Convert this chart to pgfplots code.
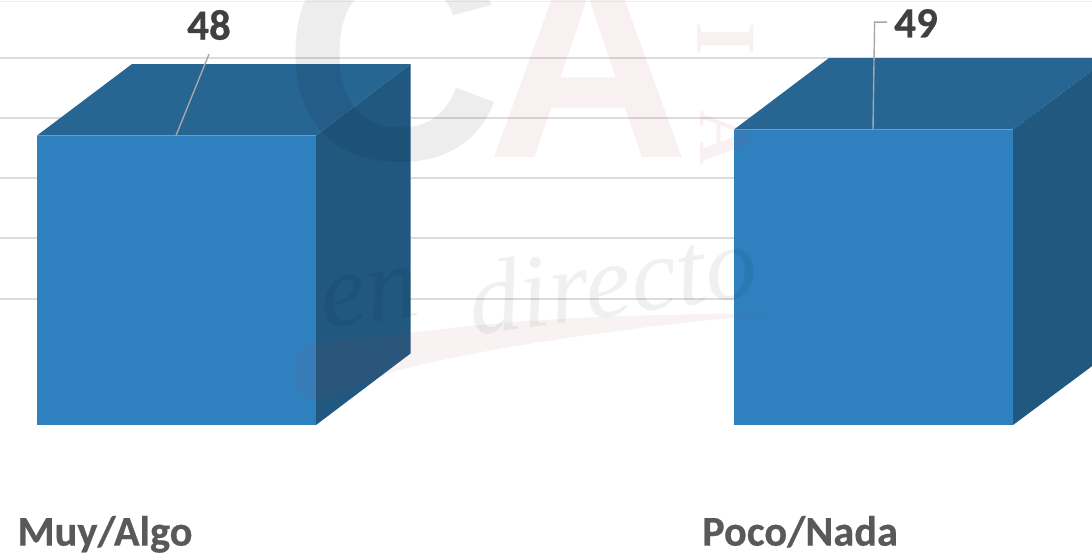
\documentclass[border=0pt]{standalone}
\usepackage{pgfplots}
\pgfplotsset{compat=1.18}
\usepackage{fontspec}
\setmainfont{Carlito}[BoldFeatures={FakeBold=0.5}]
\newfontfamily\wmfont{Liberation Sans}
\newfontfamily\wmscript{Liberation Serif}
\definecolor{barfront}{HTML}{2E81BE}
\definecolor{bartop}{HTML}{276693}
\definecolor{barside}{HTML}{205880}
\definecolor{gridc}{HTML}{DCDCDC}
\definecolor{labelc}{HTML}{404040}
\definecolor{catc}{HTML}{595959}
\definecolor{leaderc}{HTML}{A6A6A6}
\definecolor{wmred}{HTML}{B04050}
\begin{document}
\begin{tikzpicture}
\begin{axis}[
  scale only axis,
  width=546pt,
  height=277pt,
  xmin=0, xmax=1092,
  ymin=-21.39, ymax=70.48,
  axis line style={draw=none},
  tick style={draw=none},
  xtick=\empty,
  ytick={20.9,31.01,40.96,50.91,60.86},
  yticklabels={},
  ymajorgrids,
  grid style={gridc,line width=0.9pt},
]
\addplot[draw=black!6,line width=0.5pt] coordinates {(0,70.3)(1092,70.3)};
% bar 1: 48
\addplot[fill=barfront,draw=none] coordinates {(37,0)(316,0)(316,48)(37,48)} --cycle;
\addplot[fill=bartop,draw=none] coordinates {(37,48)(316,48)(410.5,59.86)(132,59.86)} --cycle;
\addplot[fill=barside,draw=none] coordinates {(316,0)(410.5,11.86)(410.5,59.86)(316,48)} --cycle;
% bar 2: 49
\addplot[fill=barfront,draw=none] coordinates {(734,0)(1013,0)(1013,49)(734,49)} --cycle;
\addplot[fill=bartop,draw=none] coordinates {(734,49)(1013,49)(1109,60.86)(829,60.86)} --cycle;
\addplot[fill=barside,draw=none] coordinates {(1013,0)(1109,11.86)(1109,60.86)(1013,49)} --cycle;
% leader lines
\addplot[leaderc,line width=0.7pt] coordinates {(176,48)(209,61.5)};
\addplot[leaderc,line width=0.7pt] coordinates {(873,49)(874.6,66.8)(887,66.8)};
% watermark, laid over the bars
\begin{scope}
\clip (axis cs:0,-21.39) rectangle (axis cs:1092,70.48);
\node[anchor=base,opacity=0.07,text=black,font=\wmfont\bfseries\fontsize{152}{152}\selectfont] at (axis cs:393,44.1) {C};
\node[anchor=base,opacity=0.08,text=wmred,font=\wmfont\bfseries\fontsize{140}{140}\selectfont] at (axis cs:589,44.3) {A};
\node[rotate=-90,opacity=0.08,text=wmred,font=\wmscript\bfseries\fontsize{43}{43}\selectfont] at (axis cs:726,64) {I};
\node[rotate=-90,opacity=0.08,text=wmred,font=\wmscript\bfseries\fontsize{38}{38}\selectfont] at (axis cs:726,47.6) {A};
\node[rotate=8,opacity=0.06,text=black,font=\wmscript\itshape\fontsize{52}{52}\selectfont] at (axis cs:370,21) {en};
\node[rotate=8,opacity=0.06,text=black,font=\wmscript\itshape\fontsize{52}{52}\selectfont] at (axis cs:612,24) {directo};
\fill[wmred,opacity=0.07] (axis cs:312,4.15) .. controls (axis cs:300,4.5) and (axis cs:294,6.5) .. (axis cs:294,8.8)
  .. controls (axis cs:294,11.5) and (axis cs:303,13.3) .. (axis cs:316,13.76)
  -- (axis cs:410,15.26)
  .. controls (axis cs:530,18) and (axis cs:660,18.4) .. (axis cs:790,18.57)
  .. controls (axis cs:700,17.6) and (axis cs:494,13.6) .. (axis cs:389,8.62)
  .. controls (axis cs:360,7) and (axis cs:335,4.5) .. (axis cs:312,4.15)
  -- cycle;
\end{scope}
% labels
\node[anchor=base,text=labelc,font=\bfseries\fontsize{21.5}{21.5}\selectfont] at (axis cs:209,63.9) {48};
\node[anchor=base,text=labelc,font=\bfseries\fontsize{21.5}{21.5}\selectfont] at (axis cs:916,64.3) {49};
\node[anchor=base,text=catc,font=\bfseries\fontsize{21.2}{21.2}\selectfont] at (axis cs:105,-20) {Muy/Algo};
\node[anchor=base,text=catc,font=\bfseries\fontsize{21.2}{21.2}\selectfont] at (axis cs:800,-20) {Poco/Nada};
\end{axis}
\pgfresetboundingbox
\path[use as bounding box] (0,0) rectangle (546pt,277pt);
\end{tikzpicture}
\end{document}
